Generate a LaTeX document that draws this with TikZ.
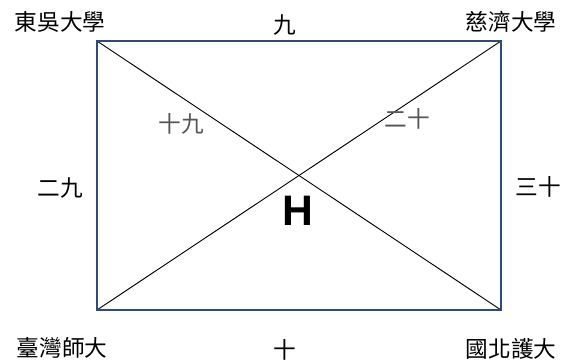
\documentclass[tikz,border=0pt]{standalone}
\usepackage{fontspec}
\setmainfont{Liberation Sans}
\newfontfamily\cjk{Noto Sans CJK TC}
\definecolor{boxnavy}{HTML}{2F4B7C}
\definecolor{lblgray}{HTML}{555555}
\begin{document}
\begin{tikzpicture}[x=0.75pt,y=-0.75pt,
  lbl/.style={inner sep=0pt,font=\cjk\fontsize{17}{20}\selectfont},
  glbl/.style={lbl,text=lblgray},
  diag/.style={draw=black,line width=0.7pt}]
\useasboundingbox (0,0) rectangle (570,362);
\coordinate (tl) at (97,41);
\coordinate (tr) at (501,41);
\coordinate (bl) at (97,310);
\coordinate (br) at (501,310);
\draw[diag] (tl) -- (br);
\draw[diag] (tr) -- (bl);
\draw[boxnavy,line width=1.6pt] (tl) rectangle (br);
\node[lbl] (n1) at (60,22) {東吳大學};
\node[lbl] (n2) at (511,22) {慈濟大學};
\node[lbl] (n3) at (62,348) {臺灣師大};
\node[lbl] (n4) at (511,349) {國北護大};
\node[lbl] (t9) at (285,25) {九};
\node[lbl] (b10) at (285,350) {十};
\node[lbl] (l29) at (60,188) {二九};
\node[lbl] (r30) at (538,187) {三十};
\node[glbl] (g19) at (181,124) {十九};
\node[glbl] (g20) at (407,119) {二十};
\node[inner sep=0pt,font=\fontsize{32}{36}\selectfont\bfseries] (h) at (298,211) {H};
\end{tikzpicture}
\end{document}
